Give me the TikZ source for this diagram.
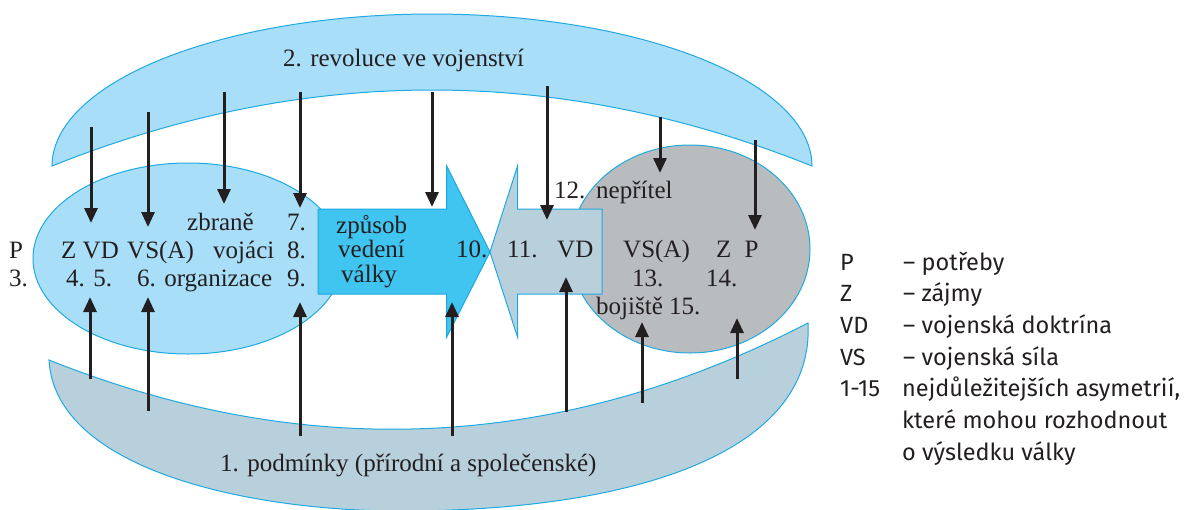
\documentclass[tikz,border=0pt]{standalone}
\usepackage{fontspec}
\setmainfont{Liberation Serif}
\newfontfamily\legfont{Fira Sans}
\usetikzlibrary{arrows.meta,shapes.geometric}
\definecolor{lblue}{HTML}{A8DEF8}
\definecolor{sblue}{HTML}{40C4F0}
\definecolor{gblue}{HTML}{B8D0DC}
\definecolor{gray1}{HTML}{B9BCBF}
\definecolor{edgec}{HTML}{1FA9E1}
\definecolor{inkc}{HTML}{231F20}
\tikzset{
  shapeln/.style={draw=edgec, line width=1pt},
  lbl/.style={inner sep=0pt, anchor=base west, text=inkc, font=\fontsize{25}{28}\selectfont},
  leg/.style={inner sep=0pt, anchor=base west, text=inkc, font=\legfont\fontsize{23.5}{26}\selectfont},
  blk/.style={draw=inkc, line width=3pt, -{Triangle[width=13pt,length=15pt]}}
}
\begin{document}
\begin{tikzpicture}[x=1pt,y=-1pt]
\useasboundingbox (0,0) rectangle (1189,509);
% top crescent
\path[shapeln, fill=lblue] plot[domain=180:360,samples=90] ({432+380*cos(\x)},{166+152*sin(\x)})
  .. controls (558.7,64.7) and (305.3,64.7) .. (52,166) -- cycle;
% bottom crescent
\path[shapeln, fill=gblue] (49,360) .. controls (55,470) and (250,511) .. (400,511)
  .. controls (640,511) and (815,450) .. (808,323)
  .. controls (560.7,451) and (307.7,463.3) .. (49,360) -- cycle;
% ellipses
\node[ellipse, shapeln, fill=lblue, minimum width=310pt, minimum height=191pt, inner sep=0pt] (L) at (188,258.5) {};
\node[ellipse, shapeln, fill=gray1, minimum width=240pt, minimum height=208pt, inner sep=0pt] (R) at (690,249) {};
% big arrows
\path[shapeln, fill=sblue] (318,209) -- (446.7,209) -- (446.7,166) -- (490,252) -- (446.7,337) -- (446.7,294) -- (318,294) -- cycle;
\path[shapeln, fill=gblue] (602,209) -- (517.5,209) -- (517.5,166) -- (490,252) -- (517.5,337) -- (517.5,294) -- (602,294) -- cycle;
% texts
\node[lbl] (t2) at (283,66.7) {2. revoluce ve vojenství};
\node[lbl] (t1) at (220,471) {1. podmínky (přírodní a společenské)};
\node[lbl] (tP) at (9,258) {P};
\node[lbl] (t3) at (9,286.7) {3.};
\node[lbl] (tzv) at (61,258) {Z VD};
\node[lbl] (tvs) at (127,258) {VS(A)};
\node[lbl] (tvo) at (213,258) {vojáci};
\node[lbl] (t8) at (287,258) {8.};
\node[lbl] (tzb) at (187,230) {zbraně};
\node[lbl] (t7) at (287,230) {7.};
\node[lbl] (t45) at (66,286.7) {4. 5.};
\node[lbl] (t6) at (137,286.7) {6. organizace};
\node[lbl] (t9) at (287,286.7) {9.};
\node[lbl] (tzp) at (336,233.5) {způsob};
\node[lbl] (tve) at (338,257.7) {vedení};
\node[lbl] (tva) at (341,282) {války};
\node[lbl] (t10) at (456,257.7) {10.};
\node[lbl] (t11) at (507,257.7) {11.};
\node[lbl] (tvd) at (557,257.7) {VD};
\node[lbl] (t12) at (554,198) {12.};
\node[lbl] (tne) at (596,198) {nepřítel};
\node[lbl] (tvs2) at (623,257.7) {VS(A)};
\node[lbl] (tz2) at (716,257.7) {Z};
\node[lbl] (tp2) at (744.5,257.7) {P};
\node[lbl] (t13) at (632,286) {13.};
\node[lbl] (t14) at (706,286) {14.};
\node[lbl] (tbo) at (596,314) {bojiště 15.};
% legend
\node[leg] (lP) at (840,270) {P};
\node[leg] (lPd) at (903,270) {– potřeby};
\node[leg] (lZ) at (840,301.7) {Z};
\node[leg] (lZd) at (903,301.7) {– zájmy};
\node[leg] (lVD) at (840,333) {VD};
\node[leg] (lVDd) at (903,333) {– vojenská doktrína};
\node[leg] (lVS) at (840,365) {VS};
\node[leg] (lVSd) at (903,365) {– vojenská síla};
\node[leg] (l15) at (840,396.7) {1-15};
\node[leg] (l15d) at (902,396.7) {nejdůležitejších asymetrií,};
\node[leg] (l15e) at (902,428) {které mohou rozhodnout};
\node[leg] (l15f) at (902,460) {o výsledku války};
% arrow end points
\foreach \n/\xa/\ya/\yb in {d1/91/127/223, d2/148/112/227, d3/224/92/204, d4/300/92/208, d5/432/92/207, d6/547/86/220, d7/660/117/173, d8/755/140/230,
  u1/90/379/297, u2/148/411/297, u3/300/436/302, u4/452/436/302, u5/566/412/277, u6/642/403/322, u7/737/379/318}{
  \coordinate (\n s) at (\xa,\ya);
  \coordinate (\n e) at (\xa,\yb);
}
\foreach \n in {d1,d2,d3,d4,d5,d6,d7,d8,u1,u2,u3,u4,u5,u6,u7}{
  \draw[blk] (\n s) -- (\n e);
}
\end{tikzpicture}
\end{document}
